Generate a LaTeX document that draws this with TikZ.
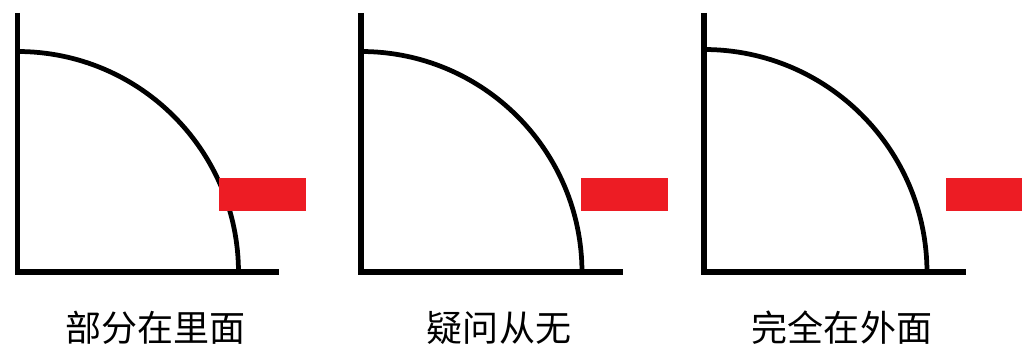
\documentclass[tikz,border=0pt]{standalone}
\usepackage{fontspec}
\newfontfamily\cjk{Noto Sans CJK SC}
\usepackage{xcolor}
\usepackage{tikz}
\definecolor{markred}{RGB}{237,28,36}

\begin{document}
\begin{tikzpicture}[
  x=0.02cm, y=0.02cm,
  axis/.style={line width=0.12cm, line join=miter},
  quarter/.style={line width=0.095cm},
  block/.style={fill=markred},
  caption/.style={inner sep=0pt, font=\cjk\fontsize{20.5}{24}\selectfont}
]
\useasboundingbox (0,0) rectangle (1022,345);
\clip (0,0) rectangle (1022,345);
\foreach \x/\r/\gap/\txt [count=\i] in {17.5/221/201.5/部分在里面,
                                        361/221/220/疑问从无,
                                        704/223/242/完全在外面} {
  \coordinate (o\i) at (\x,72.5);
  \draw[axis] (\x,332) -- (o\i) -- ++(261.5,0);
  \draw[quarter] ([yshift=\r*0.02cm]o\i) arc[start angle=90, end angle=0, radius=\r];
  \fill[block] (\x+\gap,134) rectangle ++(87,33);
  \node[caption] (cap\i) at (\x+138,17.5) {\txt};
}
\end{tikzpicture}
\end{document}
